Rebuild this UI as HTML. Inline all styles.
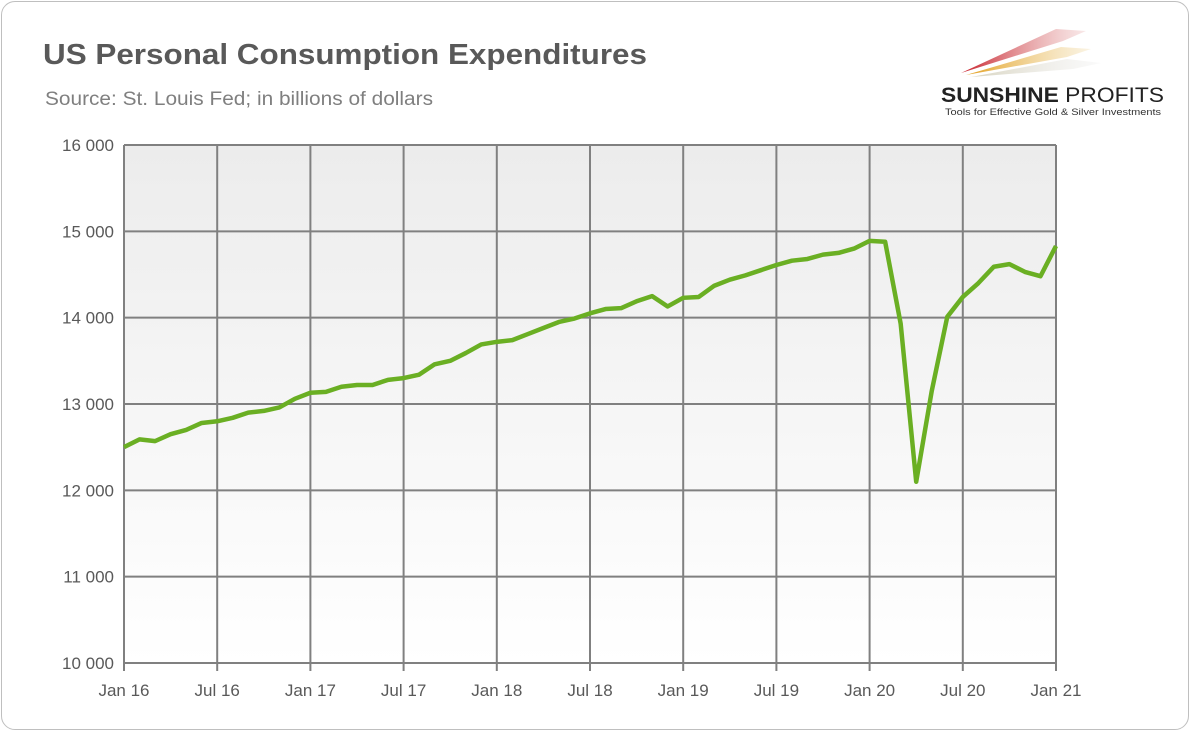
<!DOCTYPE html>
<html><head><meta charset="utf-8"><style>
body{margin:0;background:#fff;}
#card{position:absolute;left:1px;top:1px;width:1186px;height:727px;border:1px solid #bfbfbf;border-radius:14px;background:#fff;overflow:hidden;font-family:"Liberation Sans",sans-serif;}
</style></head><body>
<div id="card">
<svg width="1190" height="731" style="position:absolute;left:-1px;top:-1px">
<defs><linearGradient id="bg" x1="0" y1="0" x2="0" y2="1"><stop offset="0" stop-color="#ececec"/><stop offset="1" stop-color="#ffffff"/></linearGradient>
<linearGradient id="r1" x1="0" x2="1"><stop offset="0" stop-color="#c8202a"/><stop offset="1" stop-color="#e8b0b0" stop-opacity="0.3"/></linearGradient>
<linearGradient id="r2" x1="0" x2="1"><stop offset="0" stop-color="#e3a020"/><stop offset="1" stop-color="#f0d8a0" stop-opacity="0.3"/></linearGradient>
<linearGradient id="r3" x1="0" x2="1"><stop offset="0" stop-color="#d8d4c0"/><stop offset="1" stop-color="#eeeeee" stop-opacity="0.3"/></linearGradient></defs>
<text x="42" y="63" font-size="29" font-weight="bold" fill="#595959" textLength="604" lengthAdjust="spacingAndGlyphs">US Personal Consumption Expenditures</text>
<text x="44" y="104" font-size="19" fill="#7f7f7f" textLength="388" lengthAdjust="spacingAndGlyphs">Source: St. Louis Fed; in billions of dollars</text>
<g>
<polygon points="960,72 1055,28 1085,30 1062,40" fill="url(#r1)"/>
<polygon points="965,74 1060,46 1090,48 1066,56" fill="url(#r2)"/>
<polygon points="970,76 1066,58 1100,62 1072,68" fill="url(#r3)"/>
<text x="940" y="101" font-size="21" font-weight="bold" fill="#222" textLength="223" lengthAdjust="spacingAndGlyphs">SUNSHINE <tspan font-weight="normal">PROFITS</tspan></text>
<text x="944" y="114" font-size="9" fill="#333" textLength="216" lengthAdjust="spacingAndGlyphs">Tools for Effective Gold &amp; Silver Investments</text>
</g>
<rect x="123" y="144" width="932" height="518" fill="url(#bg)"/>
<g id="grid"></g><g id="ticks"></g><g id="line"></g>
</svg>
</div>
<script>
const yTicks=[10000,11000,12000,13000,14000,15000,16000];
const yLabels=["10 000","11 000","12 000","13 000","14 000","15 000","16 000"];
const xTickMonths=[0,6,12,18,24,30,36,42,48,54,60];
const xLabels=["Jan 16","Jul 16","Jan 17","Jul 17","Jan 18","Jul 18","Jan 19","Jul 19","Jan 20","Jul 20","Jan 21"];
const values=[12500,12590,12570,12650,12700,12780,12800,12840,12900,12920,12960,13060,13130,13140,13200,13220,13220,13280,13300,13340,13460,13500,13590,13690,13720,13740,13810,13880,13950,13990,14050,14100,14110,14190,14250,14130,14230,14240,14370,14440,14490,14550,14610,14660,14680,14730,14750,14800,14890,14880,13930,12100,13150,14010,14240,14400,14590,14620,14530,14480,14830];
const X0=123,X1=1055,Y0=662,Y1=144;
const xs=m=>X0+(X1-X0)*m/60;
const ys=v=>Y0-(Y0-Y1)*(v-10000)/6000;
const NS="http://www.w3.org/2000/svg";
const grid=document.getElementById('grid'),ticks=document.getElementById('ticks'),lineG=document.getElementById('line');
function mk(t,a){const e=document.createElementNS(NS,t);for(const k in a)e.setAttribute(k,a[k]);return e;}
yTicks.forEach((v,i)=>{
 const l=mk('line',{x1:X0,x2:X1,y1:ys(v),y2:ys(v),stroke:'#808080','stroke-width':2});
 
 
 grid.appendChild(l);
 const t=mk('text',{x:X0-10,y:ys(v)+6,'text-anchor':'end','font-size':17,fill:'#595959'});
 t.textContent=yLabels[i];
 
 
 ticks.appendChild(t);
});
xTickMonths.forEach((m,i)=>{
 const l=mk('line',{x1:xs(m),x2:xs(m),y1:Y1,y2:Y0+8,stroke:'#808080','stroke-width':2});
 
 
 grid.appendChild(l);
 const t=mk('text',{x:xs(m),y:Y0+33,'text-anchor':'middle','font-size':17,fill:'#595959'});
 t.textContent=xLabels[i];
 
 
 ticks.appendChild(t);
});
const p=mk('polyline',{points:values.map((v,i)=>xs(i)+','+ys(v)).join(' '),fill:'none',stroke:'#6aaf23','stroke-width':4.5,'stroke-linejoin':'round'});


lineG.appendChild(p);
</script>
</body></html>
